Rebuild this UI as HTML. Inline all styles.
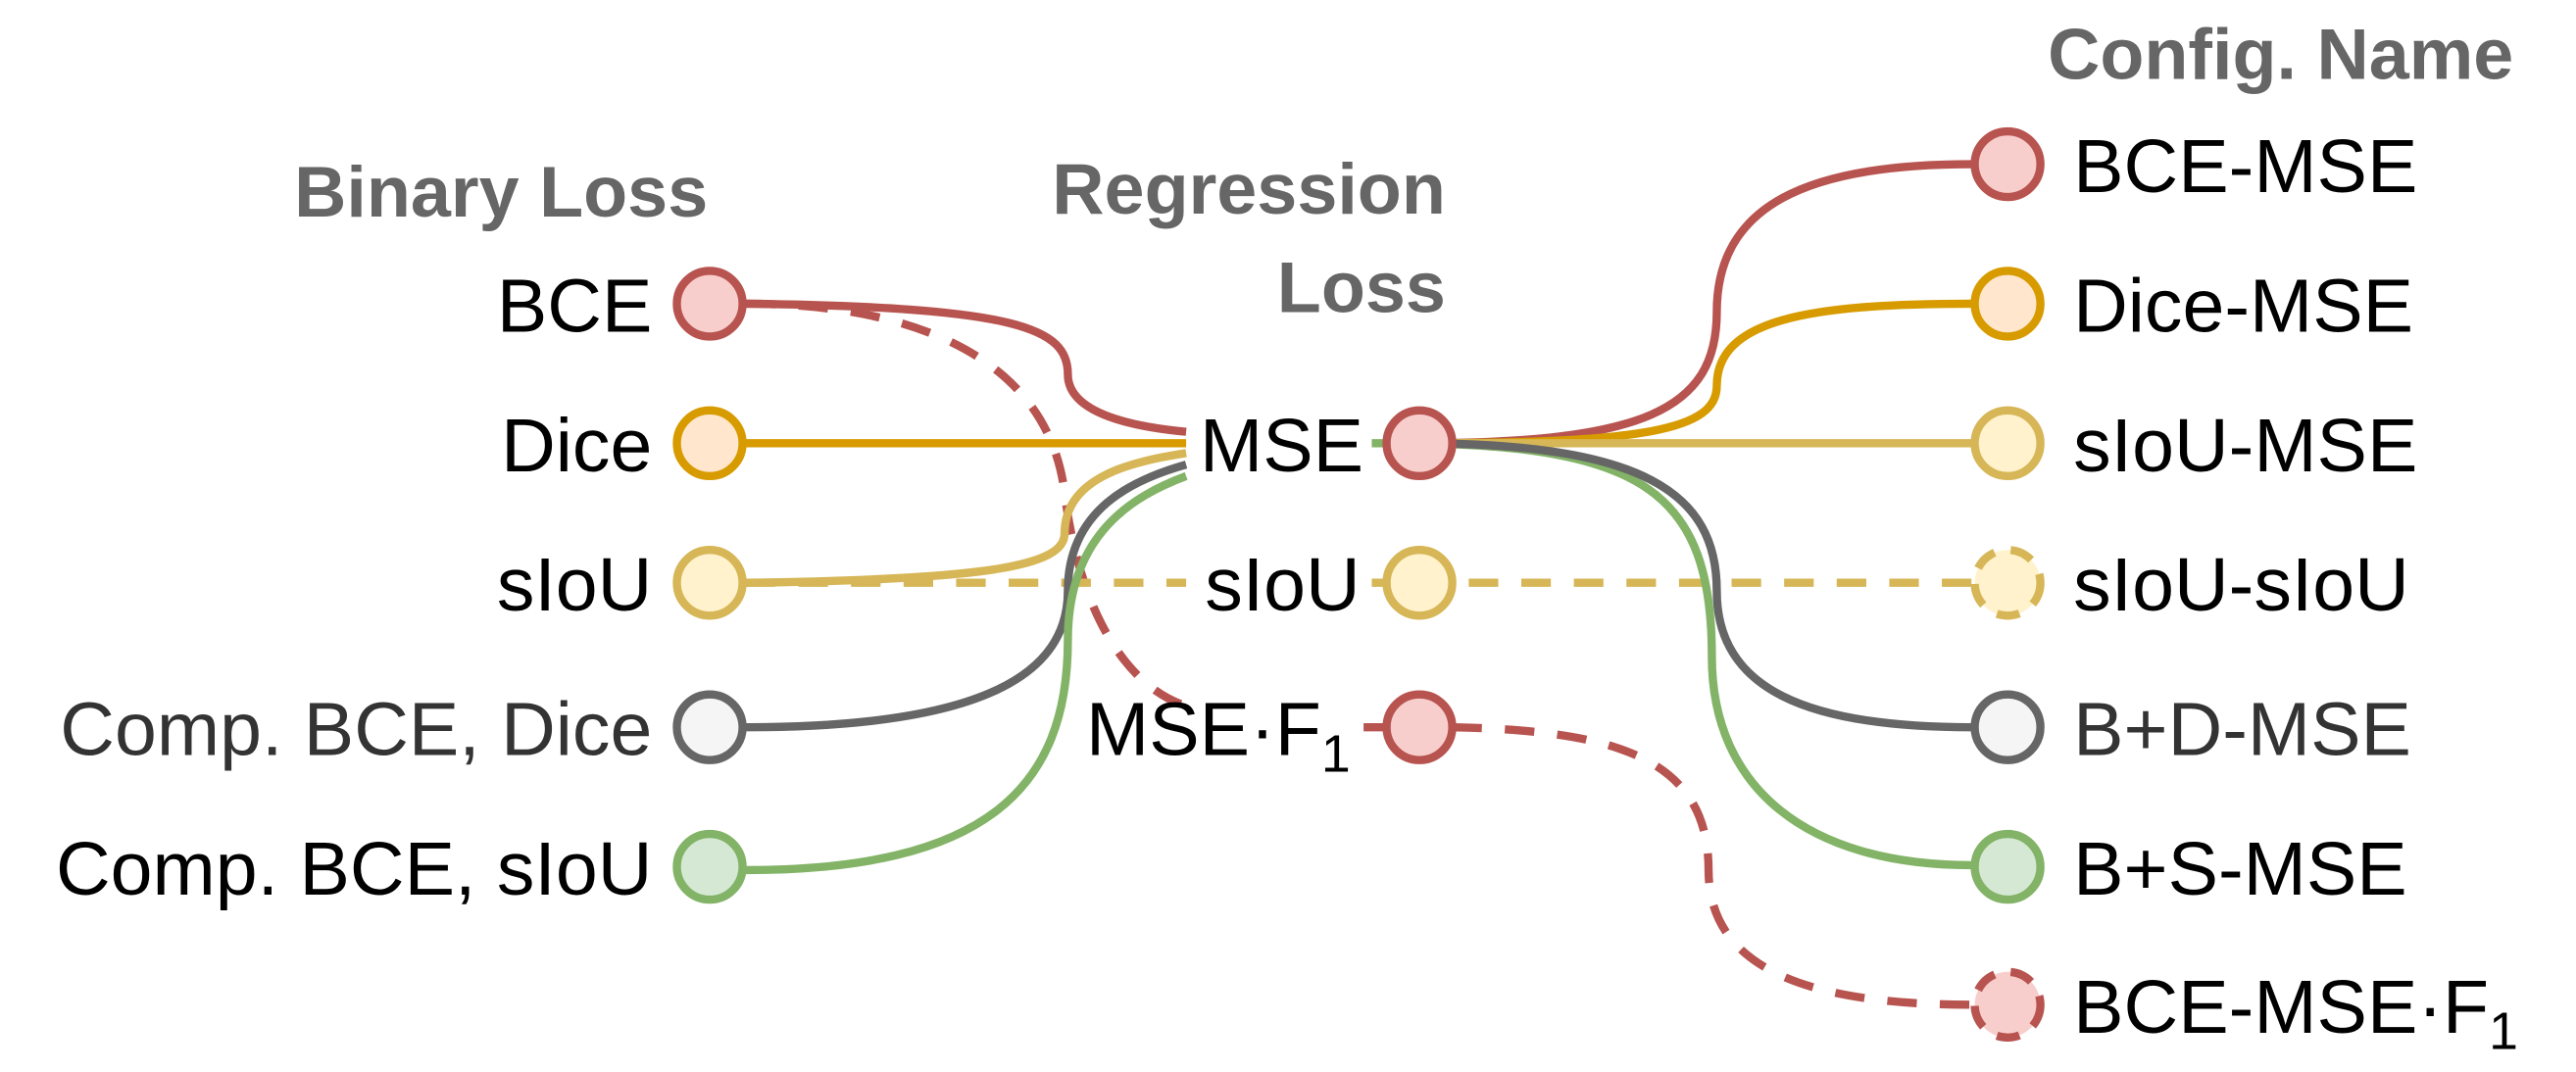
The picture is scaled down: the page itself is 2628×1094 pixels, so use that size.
<!DOCTYPE html>
<html><head><meta charset="utf-8"><style>
html,body{margin:0;padding:0;background:#fff;}
svg{display:block;}
text{font-family:"Liberation Sans",Arial,sans-serif;}
</style></head><body>
<svg width="2628" height="1094" viewBox="0 0 1568 653" preserveAspectRatio="none" xmlns="http://www.w3.org/2000/svg">
<g fill="none" stroke-width="5">
<!-- left edges -->
<path d="M454,185 C620,187 650,200 650,228 C650,252 690,260 722,263" stroke="#b85450"/>
<path d="M454,185 C560,185 638,220 648,300 C658,380 690,420 722,430" stroke="#b85450" stroke-dasharray="18,14"/>
<path d="M454,270 L722,270" stroke="#d79b00"/>
<path d="M454,355 C600,353 648,345 648,325 C648,290 690,281 722,276" stroke="#d6b656"/>
<path d="M454,355 L722,355" stroke="#d6b656" stroke-dasharray="18,14"/>
<path d="M454,443 C600,443 650,410 650,360 C650,310 690,292 722,283" stroke="#666666"/>
<path d="M454,530 C600,530 650,480 650,390 C650,325 690,302 722,290" stroke="#82b366"/>
<path d="M835,270 L850,270" stroke="#82b366"/>
<path d="M835,355 L850,355" stroke="#d6b656"/>
<path d="M830,443 L850,443" stroke="#b85450"/>
<!-- right edges -->
<path d="M862,270 C1000,270 1045,250 1045,190 C1045,125 1100,100 1200,100" stroke="#b85450"/>
<path d="M862,270 C1000,270 1045,262 1045,235 C1045,195 1100,185 1200,185" stroke="#d79b00"/>
<path d="M862,270 L1200,270" stroke="#d6b656"/>
<path d="M862,355 L1200,355" stroke="#d6b656" stroke-dasharray="18,14"/>
<path d="M862,270 C1000,272 1042,300 1042,400 C1042,480 1100,527 1200,527" stroke="#82b366"/>
<path d="M862,270 C1000,270 1045,300 1045,360 C1045,420 1100,443 1200,443" stroke="#666666"/>
<path d="M884,443 C980,445 1040,460 1040,530 C1040,590 1100,612 1200,612" stroke="#b85450" stroke-dasharray="18,14"/>
</g>
<g stroke-width="5">
<circle cx="432" cy="185" r="20" fill="#f8cecc" stroke="#b85450"/>
<circle cx="432" cy="270" r="20" fill="#ffe6cc" stroke="#d79b00"/>
<circle cx="432" cy="355" r="20" fill="#fff2cc" stroke="#d6b656"/>
<circle cx="432" cy="443" r="20" fill="#f5f5f5" stroke="#666666"/>
<circle cx="432" cy="528" r="20" fill="#d5e8d4" stroke="#82b366"/>
<circle cx="864" cy="270" r="20" fill="#f8cecc" stroke="#b85450"/>
<circle cx="864" cy="355" r="20" fill="#fff2cc" stroke="#d6b656"/>
<circle cx="864" cy="443" r="20" fill="#f8cecc" stroke="#b85450"/>
<circle cx="1222" cy="100" r="20" fill="#f8cecc" stroke="#b85450"/>
<circle cx="1222" cy="185" r="20" fill="#ffe6cc" stroke="#d79b00"/>
<circle cx="1222" cy="270" r="20" fill="#fff2cc" stroke="#d6b656"/>
<circle cx="1222" cy="355" r="20" fill="#fff2cc" stroke="#d6b656" stroke-dasharray="14,10"/>
<circle cx="1222" cy="443" r="20" fill="#f5f5f5" stroke="#666666"/>
<circle cx="1222" cy="528" r="20" fill="#d5e8d4" stroke="#82b366"/>
<circle cx="1222" cy="612" r="20" fill="#f8cecc" stroke="#b85450" stroke-dasharray="14,10"/>
</g>
<g font-size="44" font-weight="bold" fill="#666666">
<text x="305" y="132" text-anchor="middle">Binary Loss</text>
<text x="880" y="130" text-anchor="end">Regression</text>
<text x="880" y="190" text-anchor="end">Loss</text>
<text x="1530" y="48" text-anchor="end">Config. Name</text>
</g>
<g font-size="46" fill="#000" text-anchor="end">
<text x="397" y="202">BCE</text>
<text x="397" y="287">Dice</text>
<text x="397" y="372">sIoU</text>
<text x="397" y="460" fill="#333">Comp. BCE, Dice</text>
<text x="397" y="545">Comp. BCE, sIoU</text>
<text x="830" y="287">MSE</text>
<text x="828" y="372">sIoU</text>
<text x="822" y="460">MSE·F<tspan font-size="32" dy="10">1</tspan></text>
</g>
<g font-size="46" fill="#000">
<text x="1262" y="117">BCE-MSE</text>
<text x="1262" y="202">Dice-MSE</text>
<text x="1262" y="287">sIoU-MSE</text>
<text x="1262" y="372">sIoU-sIoU</text>
<text x="1262" y="460" fill="#333">B+D-MSE</text>
<text x="1262" y="545">B+S-MSE</text>
<text x="1262" y="629">BCE-MSE·F<tspan font-size="32" dy="10">1</tspan></text>
</g>
</svg>
</body></html>
